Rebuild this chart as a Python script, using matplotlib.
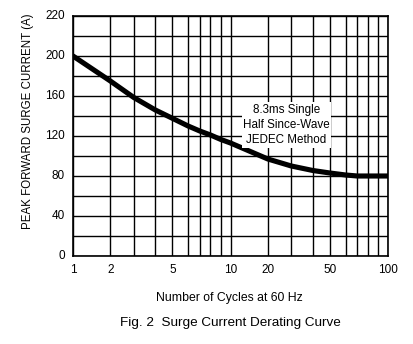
import numpy as np
import matplotlib
matplotlib.use("Agg")
import matplotlib.pyplot as plt
from matplotlib.ticker import FixedLocator, FixedFormatter

plt.rcParams['font.family'] = ['Liberation Sans', 'DejaVu Sans']

# curve
cycles = [1, 1.4, 2, 3, 4, 5, 6, 7, 8, 9, 10, 20, 30, 40, 50, 60, 70, 80, 100]
current = [200, 190, 175, 158.5, 146, 137.7, 130, 125, 121, 116.5, 113, 97, 90, 85.5, 83, 81, 80, 80, 80]

x_grid = [1, 2, 3, 4, 5, 6, 7, 8, 9, 10, 20, 30, 40, 50, 60, 70, 80, 90, 100]
x_labels = ['1', '2', '', '', '5', '', '', '', '', '10', '20', '', '', '50', '', '', '', '', '100']
y_ticks = [0, 40, 80, 120, 160, 200, 240]
y_labels = ['0', '40', '80', '120', '160', '200', '220']

# the printed scale is not a true log scale: each decade is spaced like this
mant = np.array([1, 2, 3, 4, 5, 6, 7, 8, 9, 10], float)
frac = np.array([0, .237, .386, .523, .631, .731, .805, .873, .939, 1])


def fwd(x):
    x = np.clip(np.asarray(x, float), 1e-3, None)
    d = np.floor(np.log10(x) + 1e-12)
    return d + np.interp(x / 10 ** d, mant, frac)


def inv(y):
    y = np.asarray(y, float)
    d = np.floor(y)
    return 10 ** d * np.interp(y - d, frac, mant)


fig = plt.figure(figsize=(4.13, 3.44), dpi=100)
ax = fig.add_axes([73 / 413, 1 - 256 / 344, 315 / 413, 240 / 344])
ax.set_xscale('function', functions=(fwd, inv))
ax.set_xlim(1, 100)
ax.set_ylim(0, 240)

ax.xaxis.set_major_locator(FixedLocator(x_grid))
ax.xaxis.set_major_formatter(FixedFormatter(x_labels))
ax.xaxis.set_minor_locator(FixedLocator([]))
ax.set_yticks(range(0, 241, 20))
ax.yaxis.set_major_formatter(FixedFormatter([''] * 13))
for v, lab in zip(y_ticks, y_labels):
    ax.text(-0.025, v / 240, lab, transform=ax.transAxes, ha='right', va='center', fontsize=8.5)
ax.grid(True, color='black', linewidth=1.0)
ax.tick_params(length=0, labelsize=8.5, pad=6)
for s in ax.spines.values():
    s.set_linewidth(1.2)

ax.plot(cycles, current, color='black', linewidth=3.7, solid_capstyle='round', zorder=3)

ax.text(0.678, 131 / 240, '8.3ms Single\nHalf Since-Wave\nJEDEC Method', transform=ax.transAxes,
        ha='center', va='center', fontsize=8.4, linespacing=1.35, zorder=4,
        bbox=dict(facecolor='white', edgecolor='none', pad=1.0))

fig.text(28 / 413, 1 - 121 / 344, 'PEAK FORWARD SURGE CURRENT (A)', rotation=90,
         ha='center', va='center', fontsize=8.3)
fig.text(229 / 413, 1 - 298 / 344, 'Number of Cycles at 60 Hz', ha='center', va='center', fontsize=8.8)
fig.text(230 / 413, 1 - 323 / 344, 'Fig. 2  Surge Current Derating Curve', ha='center', va='center', fontsize=9.7)

fig.savefig('out.png', dpi=100)
